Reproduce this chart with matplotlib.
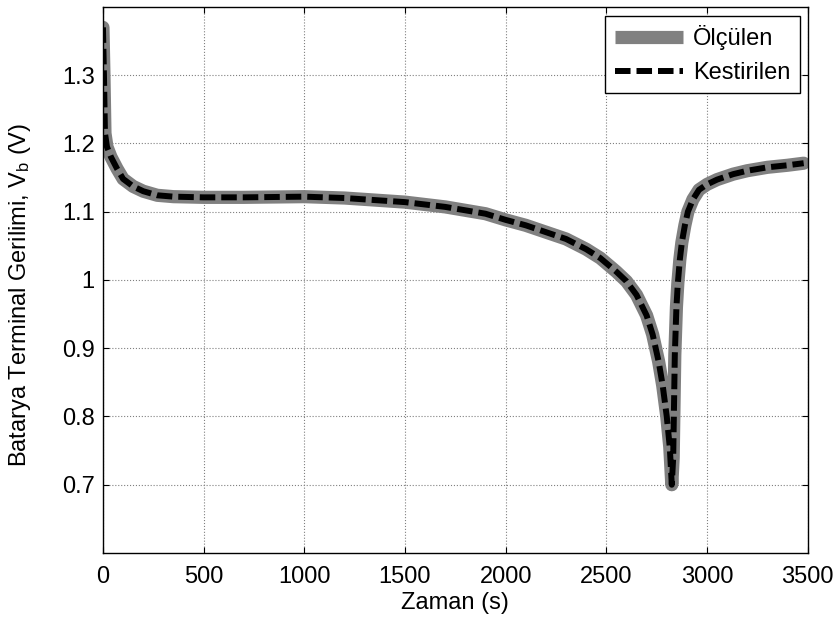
import matplotlib
matplotlib.use("Agg")
import matplotlib.pyplot as plt

plt.rcParams['font.family'] = ['Liberation Sans', 'DejaVu Sans']
plt.rcParams['mathtext.fontset'] = 'custom'
plt.rcParams['mathtext.rm'] = 'Liberation Sans'
plt.rcParams['mathtext.it'] = 'Liberation Sans'

time_s = [0, 5, 10, 20, 40, 70, 100, 150, 200, 270, 350, 500, 700, 1000, 1200, 1500,
          1700, 1900, 2000, 2100, 2200, 2300, 2400, 2470, 2550, 2600, 2650, 2700, 2730,
          2760, 2780, 2800, 2815, 2825, 2832, 2840, 2848, 2855, 2865, 2875, 2890, 2905,
          2930, 2960, 3000, 3050, 3130, 3200, 3300, 3400, 3480]
measured_v = [1.37, 1.30, 1.215, 1.195, 1.18, 1.163, 1.148, 1.137, 1.130, 1.124, 1.122,
              1.121, 1.121, 1.122, 1.120, 1.114, 1.107, 1.097, 1.088, 1.080, 1.070, 1.060,
              1.045, 1.032, 1.012, 0.998, 0.978, 0.948, 0.92, 0.88, 0.845, 0.80, 0.755,
              0.70, 0.74, 0.89, 0.96, 0.995, 1.03, 1.055, 1.08, 1.10, 1.118, 1.132, 1.140,
              1.147, 1.155, 1.160, 1.165, 1.168, 1.171]
estimated_v = [1.37, 1.30, 1.215, 1.195, 1.18, 1.163, 1.148, 1.137, 1.130, 1.124, 1.122,
               1.121, 1.121, 1.122, 1.120, 1.114, 1.107, 1.097, 1.088, 1.080, 1.070, 1.060,
               1.045, 1.032, 1.012, 0.998, 0.978, 0.948, 0.92, 0.88, 0.845, 0.80, 0.755,
               0.70, 0.74, 0.89, 0.96, 0.995, 1.03, 1.055, 1.08, 1.10, 1.118, 1.132, 1.140,
               1.147, 1.155, 1.160, 1.165, 1.168, 1.171]

x_ticks = [0, 500, 1000, 1500, 2000, 2500, 3000, 3500]
y_ticks = [0.7, 0.8, 0.9, 1.0, 1.1, 1.2, 1.3]
y_tick_labels = ['0.7', '0.8', '0.9', '1', '1.1', '1.2', '1.3']

FS = 17

fig = plt.figure(figsize=(8.37, 6.26), dpi=100)
ax = fig.add_axes([0.123, 0.1166, 0.842, 0.8724])

ax.plot(time_s, measured_v, color='#808080', lw=9.5, solid_capstyle='round',
        solid_joinstyle='round', label='Ölçülen')
ax.plot(time_s, estimated_v, color='black', lw=4.3, ls=(0, (2.6, 1.0)),
        label='Kestirilen')

ax.set_xlim(0, 3500)
ax.set_ylim(0.6, 1.4)
ax.set_xticks(x_ticks)
ax.set_xticklabels([str(v) for v in x_ticks])
ax.set_yticks(y_ticks)
ax.set_yticklabels(y_tick_labels)

ax.grid(True, color='#808080', ls=':', lw=0.8)
ax.tick_params(direction='in', top=True, right=True, length=4, labelsize=FS, width=0.8)
ax.tick_params(axis='x', pad=9)
ax.tick_params(axis='y', pad=6)
for s in ax.spines.values():
    s.set_linewidth(1.0)

ax.set_xlabel('Zaman (s)', fontsize=FS, labelpad=3)
ax.set_ylabel('Batarya Terminal Gerilimi, V$_\\mathrm{b}$ (V)', fontsize=FS)
ax.yaxis.set_label_coords(-0.099, 0.472)

leg = ax.legend(loc='upper right', bbox_to_anchor=(0.9885, 0.984), fontsize=FS,
                fancybox=False, edgecolor='black', framealpha=1, handlelength=2.9,
                borderpad=0.4, labelspacing=0.5, handletextpad=0.4, borderaxespad=0.0)
leg.get_frame().set_linewidth(1.0)
leg.get_lines()[0].set_solid_capstyle('butt')
leg.get_lines()[1].set_dash_capstyle('butt')

fig.savefig('out.png', dpi=100)
